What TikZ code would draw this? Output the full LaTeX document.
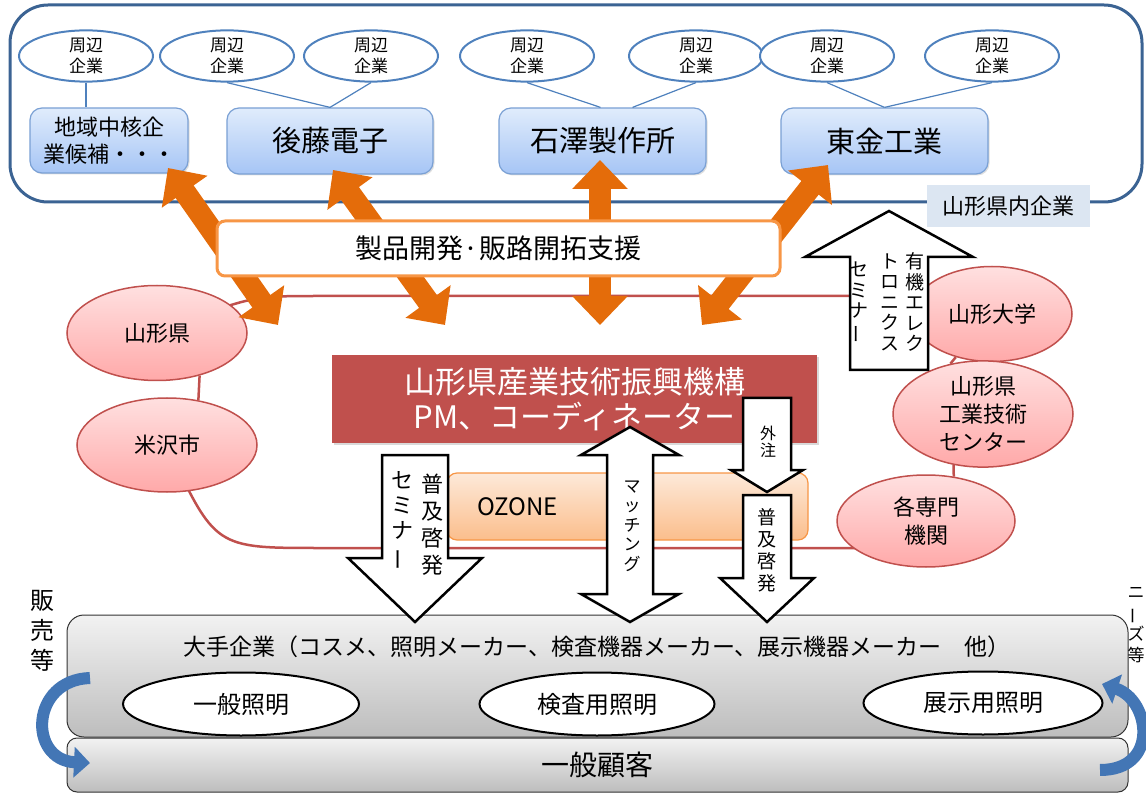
\documentclass[tikz,border=0pt]{standalone}
\usepackage{fontspec}
\setmainfont{Noto Sans CJK JP}
\usepackage{graphicx}
\usetikzlibrary{shapes.geometric,arrows.meta,backgrounds,shadows}

\definecolor{framecol}{HTML}{3B6393}
\definecolor{compline}{HTML}{7AA0D4}
\definecolor{compTop}{HTML}{E0ECFC}
\definecolor{compBot}{HTML}{A6C5F5}
\definecolor{ellline}{HTML}{4F81BD}
\definecolor{orng}{HTML}{E46C0A}
\definecolor{bandline}{HTML}{F79646}
\definecolor{netred}{HTML}{C0504D}
\definecolor{pinkTop}{HTML}{FFE0E0}
\definecolor{pinkBot}{HTML}{FFA9A9}
\definecolor{kikored}{HTML}{C0504D}
\definecolor{ozTop}{HTML}{FDE9D9}
\definecolor{ozBot}{HTML}{FBBE8C}
\definecolor{lblue}{HTML}{DCE6F2}
\definecolor{grayTop}{HTML}{F2F2F2}
\definecolor{grayBot}{HTML}{BDBDBD}
\definecolor{curveblue}{HTML}{4376B5}

\newcommand{\fs}[2]{\fontsize{#1}{#2}\selectfont}
\newcommand{\vbar}{\rotatebox[origin=c]{90}{ー}}

% block arrows: x, y start, y tip, shaft half width, head half width, head length
\newcommand{\blkdown}[6]{%
  \draw[whitearrow] (#1-#4,#2) -- (#1+#4,#2) -- (#1+#4,#3-#6) -- (#1+#5,#3-#6)
    -- (#1,#3) -- (#1-#5,#3-#6) -- (#1-#4,#3-#6) -- cycle;}
\newcommand{\blkup}[6]{%
  \draw[whitearrow] (#1-#4,#2) -- (#1-#4,#3+#6) -- (#1-#5,#3+#6) -- (#1,#3)
    -- (#1+#5,#3+#6) -- (#1+#4,#3+#6) -- (#1+#4,#2) -- cycle;}
\newcommand{\blkboth}[6]{%
  \draw[whitearrow] (#1,#2) -- (#1+#5,#2+#6) -- (#1+#4,#2+#6) -- (#1+#4,#3-#6)
    -- (#1+#5,#3-#6) -- (#1,#3) -- (#1-#5,#3-#6) -- (#1-#4,#3-#6)
    -- (#1-#4,#2+#6) -- (#1-#5,#2+#6) -- cycle;}

\begin{document}
\begin{tikzpicture}[%
    x=1pt, y=-1pt,
    regionbox/.style={
      draw=framecol,
      line width=3pt,
      rounded corners=38pt,
      minimum width=1132pt,
      minimum height=197pt
    },
    shuhen/.style={
      ellipse,
      draw=ellline,
      line width=2pt,
      fill=white,
      inner sep=0pt,
      minimum width=134pt,
      minimum height=48pt,
      align=center,
      font=\fs{17}{21}
    },
    compbox/.style={
      draw=compline,
      line width=1.2pt,
      rounded corners=12pt,
      top color=compTop,
      bottom color=compBot,
      align=center,
      minimum height=66pt,
      font=\fs{29}{32},
      drop shadow={opacity=.25, shadow xshift=1.5pt, shadow yshift=-1.5pt}
    },
    compline/.style={draw=ellline, line width=1.2pt},
    supportband/.style={
      draw=bandline,
      line width=3pt,
      fill=white,
      rounded corners=8pt,
      minimum width=563pt,
      minimum height=55pt,
      font=\fs{27}{30}
    },
    orangelink/.style={
      draw=orng,
      line width=22pt,
      {Triangle[length=29pt,width=54pt]}-{Triangle[length=29pt,width=54pt]}
    },
    pinkell/.style={
      ellipse,
      draw=netred,
      line width=1.5pt,
      top color=pinkTop,
      bottom color=pinkBot,
      inner sep=0pt,
      align=center,
      font=\fs{22}{28}
    },
    netline/.style={draw=netred, line width=2.5pt},
    graybox/.style={
      draw=black!80,
      line width=1pt,
      top color=grayTop,
      bottom color=grayBot,
      minimum width=1061pt
    },
    lampell/.style={
      ellipse,
      draw=black,
      line width=2pt,
      fill=white,
      inner sep=0pt,
      minimum width=236pt,
      minimum height=63pt,
      font=\fs{24}{28}
    },
    whitearrow/.style={draw=black, line width=2.5pt, fill=white, line join=miter},
    vlab/.style={align=center, inner sep=0pt},
    bluecurve/.style={
      draw=curveblue,
      line width=12pt,
      -{Triangle[length=16pt,width=30pt]}
    }
  ]
  \useasboundingbox (0,0) rectangle (1146,799);

  % prefecture companies
  \node[regionbox] (region) at (576,103.5) {};
  \node[fill=lblue, minimum width=163pt, minimum height=42pt, font=\fs{22}{26}]
    (kennai) at (1008,206) {山形県内企業};

  \node[shuhen] (sh1) at (86,56) {周辺\\企業};
  \node[shuhen] (sh2) at (227,56) {周辺\\企業};
  \node[shuhen] (sh3) at (371,56) {周辺\\企業};
  \node[shuhen] (sh4) at (527,56) {周辺\\企業};
  \node[shuhen] (sh5) at (696,56) {周辺\\企業};
  \node[shuhen] (sh6) at (827,56) {周辺\\企業};
  \node[shuhen] (sh7) at (992,56) {周辺\\企業};

  \node[compbox, minimum width=158pt, minimum height=65pt, font=\fs{22}{27}]
    (chukaku) at (109,140.5) {地域中核企\\業候補・・・};
  \node[compbox, minimum width=206pt] (goto) at (330,141) {後藤電子};
  \node[compbox, minimum width=207pt] (ishizawa) at (602.5,141) {石澤製作所};
  \node[compbox, minimum width=207pt] (togane) at (884.5,141) {東金工業};

  \draw[compline] (sh1.south) -- (sh1.south |- chukaku.north);
  \draw[compline] (sh2.south) -- (goto.north);
  \draw[compline] (sh3.south) -- (goto.north);
  \draw[compline] (sh4.south) -- ([xshift=-2pt]ishizawa.north);
  \draw[compline] (sh5.south) -- ([xshift=30pt]ishizawa.north);
  \draw[compline] (sh6.south) -- (togane.north);
  \draw[compline] (sh7.south) -- (togane.north);

  % support network
  \node[pinkell, minimum width=180pt, minimum height=95pt] (ken) at (157,333) {山形県};
  \node[pinkell, minimum width=180pt, minimum height=94pt] (yone) at (167,445) {米沢市};
  \node[pinkell, minimum width=160pt, minimum height=95pt] (dai) at (992,314) {山形大学};
  \node[pinkell, minimum width=180pt, minimum height=100pt] (cent) at (983,414)
    {山形県\\工業技術\\センター};
  \node[pinkell, minimum width=178pt, minimum height=92pt] (kaku) at (926,521)
    {各専門\\機関};

  \begin{scope}[on background layer]
    \draw[netline] (ken.center) .. controls (250,296) .. (320,296)
      -- ([yshift=18pt]dai.center);
    \draw[netline] (yone.center) .. controls (215,548) .. (320,548)
      -- ([yshift=-27pt]kaku.center);
    \draw[netline] (ken.315) -- (yone.55);
    \draw[netline] (dai.230) -- (cent.123);
    \draw[netline] (cent.240) -- (kaku.58);
  \end{scope}

  \node[fill=kikored, minimum width=485pt, minimum height=88pt, text=white,
    font=\fs{31}{35}, align=center,
    drop shadow={opacity=.3, shadow xshift=2pt, shadow yshift=-2pt}]
    (kiko) at (574.5,399) {山形県産業技術振興機構\\PM、コーディネーター};
  \node[draw=bandline, line width=1.2pt, rounded corners=10pt, top color=ozTop,
    bottom color=ozBot, text width=301pt, inner xsep=30pt, align=left,
    minimum height=67pt, font=\fs{24}{28}] (ozone) at (627.5,506.5) {OZONE};

  % customers
  \node[graybox, minimum height=122pt, rounded corners=17pt] (maker) at (597.5,676) {};
  \node[font=\fs{23}{26}] (makertxt) at (597,647)
    {大手企業（コスメ、照明メーカー、検査機器メーカー、展示機器メーカー　他）};
  \node[graybox, minimum height=54pt, rounded corners=10pt, font=\fs{28}{30}]
    (kokyaku) at (597.5,765) {一般顧客};
  \node[lampell] (ippan) at (241,704) {一般照明};
  \node[lampell, minimum width=235pt] (kensa) at (597,704) {検査用照明};
  \node[lampell, minimum width=239pt] (tenji) at (983,703) {展示用照明};

  % product development support
  \coordinate (o1a) at (168,168);
  \coordinate (o1b) at (278,325);
  \coordinate (o2a) at (333,170);
  \coordinate (o2b) at (445,325);
  \coordinate (o3a) at (600,160);
  \coordinate (o3b) at (600,325);
  \coordinate (o4a) at (828,165);
  \coordinate (o4b) at (702,325);
  \draw[orangelink] (o1a) -- (o1b);
  \draw[orangelink] (o2a) -- (o2b);
  \draw[orangelink] (o3a) -- (o3b);
  \draw[orangelink] (o4a) -- (o4b);
  \node[supportband] (shien) at (498.5,248.5) {製品開発·販路開拓支援};

  % white arrows
  \blkdown{415}{455}{622}{33}{67}{64}
  \blkboth{630}{427}{622}{23}{49}{28}
  \blkdown{767}{398}{492}{24}{36}{22}
  \blkdown{767}{495}{622}{24}{47}{44}
  \blkup{889}{370}{211}{39}{84}{46}

  \node[vlab, font=\fs{22}{27}] (fukyu1) at (432,525) {普\\及\\啓\\発};
  \node[vlab, font=\fs{22}{25}] (seminar1) at (402,521) {セ\\ミ\\ナ\\\vbar};
  \node[vlab, font=\fs{17}{19.5}] (matching) at (632,526) {マ\\ッ\\チ\\ン\\グ};
  \node[vlab, font=\fs{16}{17}] (gaichu) at (768,442) {外\\注};
  \node[vlab, font=\fs{19}{22}] (fukyu2) at (767,550) {普\\及\\啓\\発};
  \node[vlab, font=\fs{19}{20.5}] (yuki1) at (915,302) {有\\機\\エ\\レ\\ク};
  \node[vlab, font=\fs{19}{20.5}] (yuki2) at (890,302) {ト\\ロ\\ニ\\ク\\ス};
  \node[vlab, font=\fs{19}{20.5}] (yuki3) at (859,303) {セ\\ミ\\ナ\\\vbar};

  % sales and needs
  \node[vlab, font=\fs{24}{30}] (hanbai) at (42,631) {販\\売\\等};
  \node[vlab, font=\fs{17}{21}] (needs) at (1136,625) {ニ\\\vbar\\ズ\\等};
  \coordinate (sellfrom) at (90,678);
  \coordinate (sellto) at (90,763);
  \coordinate (needfrom) at (1100,770);
  \coordinate (needto) at (1102,684);
  \draw[bluecurve] (sellfrom) .. controls (30,680) and (28,760) .. (sellto);
  \draw[bluecurve] (needfrom) .. controls (1160,770) and (1150,700) .. (needto);
\end{tikzpicture}
\end{document}
